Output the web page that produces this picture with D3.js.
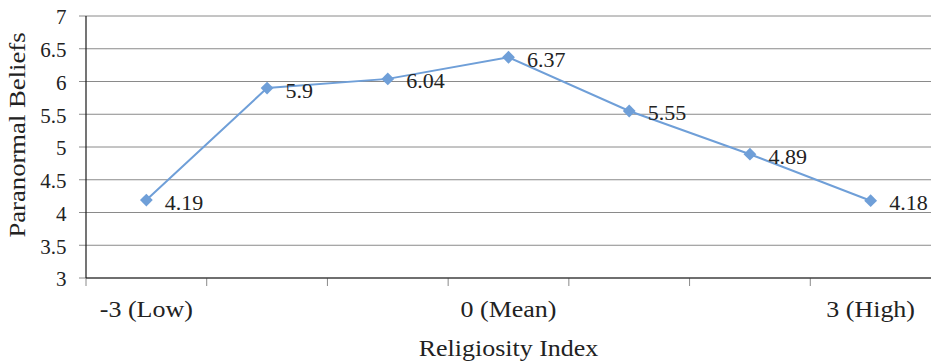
<!DOCTYPE html>
<html>
<head>
<meta charset="utf-8">
<script src="https://cdn.jsdelivr.net/npm/d3@7"></script>
<style>
  html, body { margin: 0; padding: 0; background: #fff; }
  svg { display: block; font-family: "Liberation Serif", "Times New Roman", serif; }
</style>
</head>
<body>
<svg id="chart" width="932" height="364"></svg>
<script>
// Religiosity index levels (-3 .. 3) and mean paranormal belief scores
const levels = [-3, -2, -1, 0, 1, 2, 3];
const scores = [4.19, 5.9, 6.04, 6.37, 5.55, 4.89, 4.18];
const levelLabels = ["-3 (Low)", "", "", "0 (Mean)", "", "", "3 (High)"];
const yTicks = [3, 3.5, 4, 4.5, 5, 5.5, 6, 6.5, 7];

const svg = d3.select("#chart");
const m = { left: 86, right: 931, top: 16, bottom: 278 };
const ink = "#222";
const wide = 1.13; // horizontal widening used for the axis captions

const x = d3.scaleBand().domain(levels).range([m.left, m.right]);
const y = d3.scaleLinear().domain([3, 7]).range([m.bottom, m.top]);

// horizontal gridlines with small outside ticks on the left
svg.append("g").selectAll("line").data(yTicks).join("line")
  .attr("x1", m.left - 7).attr("x2", m.right)
  .attr("y1", d => y(d)).attr("y2", d => y(d))
  .attr("stroke", "#8a8a8a").attr("stroke-width", 1);

// y tick labels
svg.append("g").selectAll("text").data(yTicks).join("text")
  .attr("x", 66.5).attr("y", d => y(d) + 8.3)
  .attr("text-anchor", "end").attr("font-size", 21).attr("fill", ink)
  .text(d => d);

// category boundary ticks below the x axis
svg.append("g").selectAll("line").data(levels).join("line")
  .attr("x1", d => x(d)).attr("x2", d => x(d))
  .attr("y1", m.bottom).attr("y2", m.bottom + 8)
  .attr("stroke", "#8a8a8a").attr("stroke-width", 1);

// axis lines
svg.append("line").attr("x1", m.left).attr("x2", m.left)
  .attr("y1", m.top).attr("y2", m.bottom).attr("stroke", "#1a1a1a").attr("stroke-width", 1.2);
svg.append("line").attr("x1", m.left).attr("x2", m.right)
  .attr("y1", m.bottom).attr("y2", m.bottom).attr("stroke", "#1a1a1a").attr("stroke-width", 1.2);

// x tick labels
svg.append("g").selectAll("text").data(levels).join("text")
  .attr("transform", d => `translate(${x(d) + x.bandwidth() / 2},316.5) scale(${wide},1)`)
  .attr("text-anchor", "middle").attr("font-size", 23).attr("fill", ink)
  .text((d, i) => levelLabels[i]);

// axis titles
svg.append("text")
  .attr("transform", `translate(${(m.left + m.right) / 2},356) scale(${wide},1)`)
  .attr("text-anchor", "middle").attr("font-size", 23).attr("fill", ink)
  .text("Religiosity Index");
svg.append("text")
  .attr("transform", "translate(25,135) rotate(-90) scale(1.16,1)")
  .attr("text-anchor", "middle").attr("font-size", 23).attr("fill", ink)
  .text("Paranormal Beliefs");

const pts = levels.map((l, i) => ({ l, v: scores[i] }));
const cx = d => x(d.l) + x.bandwidth() / 2;

// series line
svg.append("path").datum(pts)
  .attr("d", d3.line().x(cx).y(d => y(d.v)))
  .attr("fill", "none").attr("stroke", "#6f9fd8").attr("stroke-width", 2);

// diamond markers
svg.append("g").selectAll("path").data(pts).join("path")
  .attr("d", d3.symbol(d3.symbolSquare, 82))
  .attr("transform", d => `translate(${cx(d)},${y(d.v)}) rotate(45)`)
  .attr("fill", "#6f9fd8");

// value labels
svg.append("g").selectAll("text").data(pts).join("text")
  .attr("x", d => cx(d) + 18.5).attr("y", d => y(d.v) + 9.5)
  .attr("font-size", 22).attr("fill", ink)
  .text(d => d.v);
</script>
</body>
</html>
